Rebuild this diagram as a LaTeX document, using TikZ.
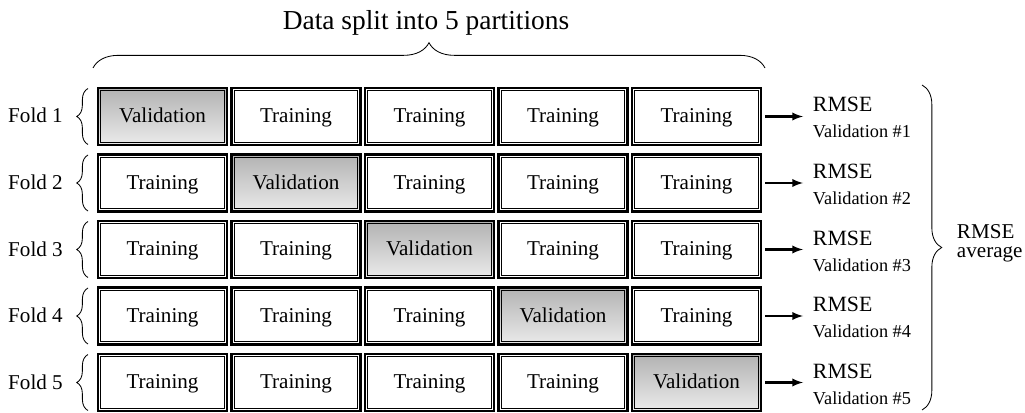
\documentclass[tikz,border=0pt]{standalone}
\usepackage{fontspec}
\setmainfont{Liberation Serif}
\usetikzlibrary{arrows,decorations.pathreplacing,calc}

\tikzset{
	cell/.style={draw,line width=1.7pt,outer sep=0pt,inner sep=0pt,minimum width=3.225cm,minimum height=1.425cm,text height=11pt,text depth=2pt,font=\fontsize{15}{18}\selectfont},
	valcell/.style={cell,top color=black!30,bottom color=black!8},
	foldbrace/.style={decorate,decoration={brace,amplitude=8pt},line width=0.6pt},
	lab/.style={anchor=base,font=\fontsize{15}{18}\selectfont},
}

\begin{document}
\begin{tikzpicture}[x=0.025cm,y=-0.025cm]
	\useasboundingbox (0,0) rectangle (1025,413);
	\node[anchor=base,font=\fontsize{19.5}{22}\selectfont] (title) at (426,30) {Data split into 5 partitions};
	\draw[decorate,decoration={brace,amplitude=18pt},line width=0.6pt] (93,68) -- (765,68);
	\foreach \i in {1,...,5}{
		\pgfmathsetmacro{\yc}{116.5+(\i-1)*66.5}
		\node[lab] (fold\i) at (35.5,{\yc+6.5}) {Fold \i};
		\draw[foldbrace] (88,{\yc+28}) -- (88,{\yc-28});
		\foreach \j in {1,...,5}{
			\pgfmathsetmacro{\xc}{162.5+(\j-1)*133.5}
			\ifnum\i=\j
				\node[valcell] (c\i\j) at (\xc,\yc) {Validation};
			\else
				\node[cell] (c\i\j) at (\xc,\yc) {Training};
			\fi
			\draw[line width=0.5pt] ($(c\i\j.south west)+(2.7,-2.7)$) rectangle ($(c\i\j.north east)+(-2.7,2.7)$);
		}
		\node[anchor=base west,font=\fontsize{15.5}{18}\selectfont] (rmse\i) at (808,{\yc-4.5}) {RMSE};
		\node[anchor=base west,font=\fontsize{13}{16}\selectfont] (val\i) at (808,{\yc+21.5}) {Validation \#\i};
		\coordinate (tip\i) at (803,\yc);
		\draw[-latex,line width=1.6pt,shorten <=3pt] (c\i5.east) -- (tip\i);
	}
	\draw[decorate,decoration={brace,amplitude=14pt},line width=0.6pt] (922,85) -- (922,410);
	\node[anchor=base west,font=\fontsize{15}{18}\selectfont] (avg1) at (952,238) {RMSE};
	\node[anchor=base west,font=\fontsize{15}{18}\selectfont] (avg2) at (952,257) {average};
\end{tikzpicture}
\end{document}
